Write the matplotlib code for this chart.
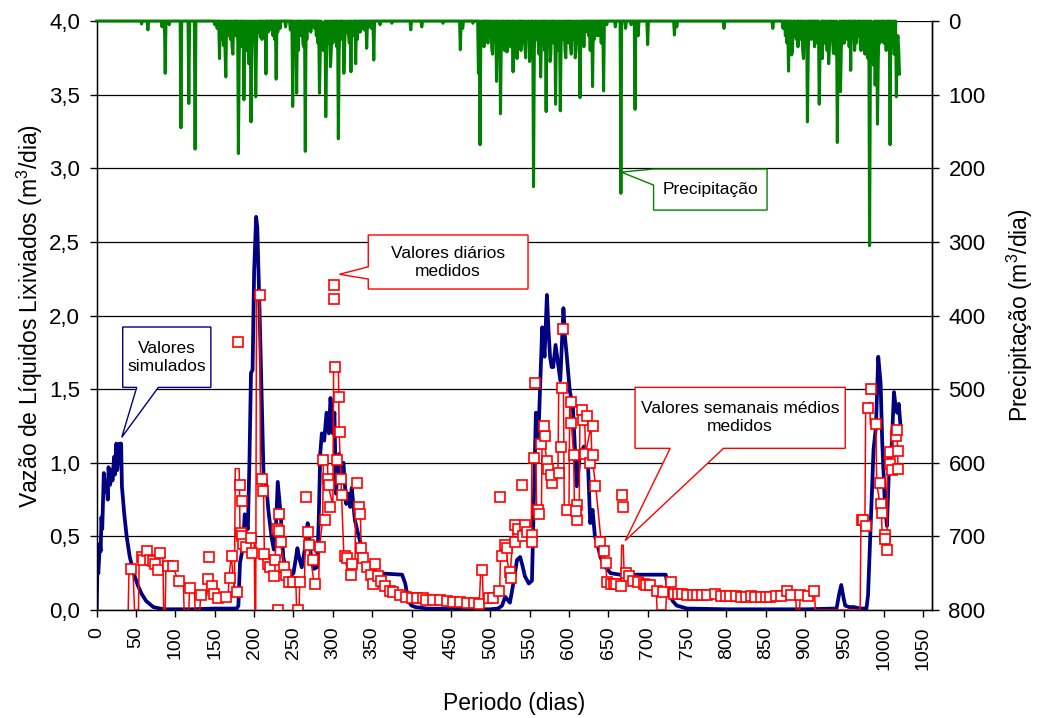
import numpy as np
import matplotlib
matplotlib.use("Agg")
import matplotlib.pyplot as plt
from matplotlib.patches import Polygon
from matplotlib.ticker import FuncFormatter

plt.rcParams['font.family'] = ['Liberation Sans', 'DejaVu Sans']
plt.rcParams['mathtext.default'] = 'regular'

# Simulated leachate flow (m3/day)
sim_days = [0, 1, 2, 4, 5, 6, 7, 9, 11, 13, 14, 15, 17, 19, 20, 22, 23, 25, 26, 27, 29, 31, 32, 35, 38,
            42, 47, 52, 57, 63, 72, 85, 120, 150, 170, 178, 180, 182, 186, 188, 190, 192, 194, 196, 198,
            200, 202.5, 204, 205.5, 207, 210, 212, 215, 218, 222, 225, 228, 230, 232, 234, 237, 240, 243.5,
            246, 250, 253, 255, 257, 260.5, 264, 268, 270, 273, 276, 280, 282, 284, 286, 289, 292, 295, 297,
            299, 300, 302, 304, 306, 308, 310.5, 313.5, 317, 320, 322, 324, 328, 332, 337, 343, 348, 356,
            388, 392, 396, 400, 405, 420, 480, 500, 510, 515, 519, 522, 525, 530, 534, 538, 541, 544, 549,
            553, 556, 558, 561, 564, 566, 569, 572, 574, 576, 578, 580, 583, 585, 589, 593, 595, 597, 601,
            605, 608, 610, 614, 619, 624, 627, 630, 633, 636, 640, 645, 653, 665, 723, 727, 732, 737, 750,
            800, 900, 940, 943, 946, 949, 951, 956, 962, 970, 978, 980, 983, 987, 990, 993, 996, 998, 1001,
            1004, 1007.5, 1010, 1013, 1015, 1017, 1019, 1021]
sim_flow = [0.01, 0.32, 0.25, 0.45, 0.40, 0.63, 0.55, 0.93, 0.80, 0.84, 0.75, 0.97, 0.85, 0.95, 0.88, 1.04,
            0.92, 1.13, 0.95, 1.00, 1.13, 1.13, 0.84, 0.65, 0.50, 0.36, 0.25, 0.17, 0.11, 0.06, 0.02, 0.005,
            0.005, 0.01, 0.01, 0.01, 0.03, 0.32, 0.43, 0.65, 0.60, 0.55, 1.00, 1.61, 1.63, 2.30, 2.67, 2.60,
            2.30, 2.01, 1.34, 0.91, 0.88, 0.68, 0.50, 0.41, 0.60, 0.87, 0.75, 0.63, 0.36, 0.28, 0.27, 0.23,
            0.25, 0.35, 0.42, 0.36, 0.29, 0.40, 0.59, 0.50, 0.32, 0.28, 0.29, 0.60, 1.06, 1.20, 1.15, 1.34,
            1.20, 1.44, 1.30, 1.20, 1.34, 0.79, 0.95, 1.06, 0.88, 1.00, 0.72, 0.79, 0.70, 0.83, 0.61, 0.52,
            0.42, 0.32, 0.26, 0.25, 0.24, 0.18, 0.06, 0.03, 0.02, 0.01, 0.005, 0.005, 0.01, 0.03, 0.09, 0.07,
            0.05, 0.20, 0.34, 0.36, 0.30, 0.23, 0.18, 0.20, 0.88, 1.34, 1.15, 1.60, 1.92, 1.72, 2.14, 1.90,
            1.72, 1.65, 1.65, 1.80, 1.72, 1.56, 2.05, 1.85, 1.74, 1.49, 1.38, 1.05, 0.84, 1.06, 1.11, 1.02,
            0.59, 0.68, 0.50, 0.45, 0.36, 0.30, 0.25, 0.24, 0.24, 0.11, 0.06, 0.03, 0.01, 0.005, 0.005, 0.01,
            0.10, 0.17, 0.08, 0.03, 0.02, 0.02, 0.01, 0.01, 0.10, 0.52, 1.09, 1.24, 1.72, 1.54, 1.15, 0.77,
            0.57, 1.09, 1.11, 1.48, 1.38, 1.34, 1.40, 1.27]

# Weekly mean measured flow (m3/day)
week_days = [40, 41, 46, 48, 53, 54, 60, 61, 66, 67, 73, 74, 79, 80, 84, 85, 87, 88, 96, 97, 103, 104, 110,
             111, 117, 118, 124, 125, 131, 132, 140, 141, 147, 153, 160, 167, 168, 171, 175, 176, 181, 182,
             188, 189, 195, 196, 200, 201, 202, 203, 207, 208, 212, 213, 219, 225, 226, 230, 233, 240, 247,
             253, 254, 257, 258, 264, 265, 270, 276, 282, 283, 287, 288, 293, 294, 300, 301, 307, 308, 314,
             321, 328, 329, 335, 336, 342, 349, 356, 363, 370, 377, 384, 391, 398, 405, 412, 419, 426, 433,
             440, 447, 454, 461, 468, 475, 482, 486, 488, 490, 491, 498, 505, 512, 513, 518, 519, 524, 525,
             530, 535, 536, 540, 546, 552, 553, 558, 559, 565, 566, 572, 573, 579, 580, 586, 587, 593, 594,
             600, 601, 606, 607, 613, 614, 620, 621, 628, 629, 634, 641, 647, 648, 654, 660, 666, 667, 669,
             670, 676, 683, 690, 697, 704, 711, 712, 723, 724, 725, 728, 729, 736, 743, 750, 757, 764, 771,
             778, 785, 792, 799, 806, 813, 820, 827, 834, 841, 848, 855, 862, 869, 876, 882, 888, 889, 893,
             894, 904, 910, 912, 913, 970, 971, 976, 977, 982, 983, 990, 991, 997, 998, 1004, 1005, 1010,
             1011, 1017, 1018]
week_flow = [0, 0.28, 0.28, 0, 0, 0.36, 0.36, 0.40, 0.40, 0.34, 0.33, 0.30, 0.30, 0.39, 0.39, 0, 0, 0.31,
             0.30, 0.30, 0.20, 0.20, 0.20, 0, 0, 0.15, 0.15, 0, 0, 0.10, 0.10, 0.21, 0.16, 0.10, 0.09, 0.09,
             0.22, 0.37, 0.12, 0.96, 0.96, 0.55, 0.50, 0.46, 0.46, 0.49, 0.49, 0, 0, 2.14, 2.14, 0.89, 0.81,
             0.38, 0.31, 0.23, 0.34, 0.55, 0.46, 0.27, 0.19, 0.19, 0, 0, 0.19, 0.19, 0.53, 0.44, 0.18, 0.18,
             0.43, 0.61, 1.02, 1.02, 0.85, 0.71, 1.65, 1.65, 1.21, 0.37, 0.22, 0.22, 0.72, 0.65, 0.41, 0.29,
             0.25, 0.23, 0.20, 0.14, 0.12, 0.10, 0.09, 0.08, 0.08, 0.08, 0.07, 0.07, 0.065, 0.06, 0.06,
             0.055, 0.055, 0.05, 0.045, 0.045, 0.04, 0.27, 0.27, 0.07, 0.08, 0.08, 0.12, 0.37, 0.44, 0.42,
             0.26, 0.22, 0.58, 0.55, 0.50, 0.50, 0.53, 0.46, 1.03, 1.03, 0.68, 0.65, 1.25, 1.01, 0.96, 0.92,
             0.93, 0.93, 1.51, 1.51, 0.68, 0.68, 1.41, 1.05, 0.67, 0.61, 1.36, 1.32, 1.06, 1.25, 1.05, 0.84,
             0.46, 0.32, 0.19, 0.18, 0.18, 0.15, 0.44, 0.44, 0.26, 0.23, 0.20, 0.16, 0.17, 0.16, 0.12, 0, 0,
             0.11, 0.19, 0.19, 0.11, 0.11, 0.11, 0.10, 0.10, 0.10, 0.10, 0.10, 0.11, 0.095, 0.095, 0.095,
             0.095, 0.09, 0.09, 0.095, 0.09, 0.09, 0.09, 0.095, 0.095, 0.13, 0.10, 0.10, 0, 0, 0.10, 0.095,
             0.13, 0.13, 0, 0, 0.61, 0.57, 1.37, 1.41, 1.26, 1.26, 0.86, 0.66, 0.51, 0.41, 1.07, 0.95, 1.22,
             1.22, 0.96]

# Daily measured flow (m3/day)
daily_days = [44, 57, 59, 64, 68, 72, 74, 78, 80, 90, 97, 104, 118, 132, 142, 143, 146, 149, 154, 164, 169,
              172, 178, 179, 182, 184, 183, 185, 186, 190, 196, 197, 207, 210, 211, 213, 217, 220, 225, 227,
              229, 231, 232, 234, 230, 238, 241, 244, 250, 256, 258, 266, 268, 270, 275, 277, 284, 290, 288,
              294, 295, 297, 301, 302, 303, 308, 309, 305, 310, 312, 316, 318, 324, 323, 331, 333, 334, 336,
              338, 344, 348, 353, 351, 358, 361, 366, 372, 377, 385, 393, 401, 407, 414, 419, 427, 436, 445,
              453, 462, 470, 479, 486, 489, 498, 504, 511, 515, 519, 521, 513, 525, 526, 532, 532, 535, 540,
              542, 544, 547, 553, 553, 555, 557, 561, 562, 564, 569, 568, 572, 574, 578, 577, 587, 590, 592,
              591, 598, 602, 603, 606, 610, 610, 609, 616, 618, 623, 621, 627, 631, 630, 633, 640, 645, 647,
              648, 653, 657, 660, 666, 668, 669, 672, 676, 682, 688, 695, 698, 703, 712, 720, 730, 733, 738,
              744, 750, 757, 763, 769, 776, 786, 793, 799, 805, 812, 818, 825, 831, 837, 844, 850, 856, 863,
              869, 877, 882, 894, 904, 911, 972, 974, 977, 980, 984, 990, 995, 997, 998, 1001, 1002, 1004,
              1008, 1008, 1011, 1015, 1017, 1018, 1018]
daily_flow = [0.28, 0.36, 0.34, 0.40, 0.34, 0.33, 0.31, 0.27, 0.39, 0.30, 0.30, 0.20, 0.15, 0.10, 0.21, 0.36,
              0.16, 0.11, 0.08, 0.09, 0.22, 0.37, 0.12, 1.82, 0.85, 0.74, 0.52, 0.50, 0.45, 0.43, 0.49, 0.39,
              2.14, 0.89, 0.81, 0.38, 0.31, 0.29, 0.23, 0.34, 0.55, 0.65, 0.54, 0.46, 0.00, 0.29, 0.24, 0.19,
              0.19, 0.00, 0.19, 0.77, 0.53, 0.44, 0.34, 0.18, 0.43, 0.61, 1.02, 0.89, 0.85, 0.70, 2.21, 2.11,
              1.65, 1.45, 1.21, 1.02, 0.89, 0.78, 0.37, 0.35, 0.31, 0.24, 0.86, 0.70, 0.65, 0.42, 0.35, 0.29,
              0.24, 0.31, 0.18, 0.23, 0.20, 0.16, 0.13, 0.12, 0.10, 0.09, 0.08, 0.08, 0.08, 0.07, 0.07, 0.065,
              0.06, 0.055, 0.055, 0.045, 0.045, 0.04, 0.27, 0.08, 0.08, 0.13, 0.37, 0.44, 0.42, 0.77, 0.26,
              0.22, 0.58, 0.46, 0.55, 0.85, 0.50, 0.58, 0.53, 0.51, 0.46, 1.03, 1.54, 0.68, 0.65, 1.13, 1.18,
              1.25, 1.01, 0.96, 0.86, 0.92, 0.93, 1.11, 1.91, 1.51, 0.68, 1.27, 1.41, 1.05, 0.71, 0.61, 0.67,
              1.36, 1.29, 1.32, 1.06, 1.00, 1.25, 1.05, 0.84, 0.46, 0.40, 0.32, 0.19, 0.18, 0.18, 0.18, 0.16,
              0.78, 0.70, 0.25, 0.23, 0.20, 0.19, 0.18, 0.17, 0.17, 0.13, 0.12, 0.19, 0.11, 0.11, 0.11, 0.10,
              0.10, 0.10, 0.10, 0.10, 0.11, 0.095, 0.095, 0.095, 0.095, 0.09, 0.09, 0.095, 0.09, 0.09, 0.09,
              0.09, 0.095, 0.095, 0.13, 0.10, 0.10, 0.095, 0.13, 0.61, 0.61, 0.57, 1.37, 1.50, 1.26, 0.86,
              0.72, 0.66, 0.51, 0.48, 0.41, 1.07, 0.99, 0.95, 1.18, 1.22, 1.08, 0.96]

# Rainfall events (m3/day); all other days are dry
rain_days = [57, 65, 83, 87, 92, 107, 117, 125, 150, 156, 158, 161, 164, 167, 170, 172, 175, 180, 183, 187,
             190, 193, 196, 199, 202, 205, 208, 212, 215, 220, 224, 228, 240, 249, 251, 254, 258, 262, 265,
             270, 275, 279, 283, 286, 288, 291, 294, 297, 300, 303, 307, 310, 314, 317, 320, 323, 326, 329,
             335, 338, 343, 346, 352, 360, 375, 399, 413, 440, 462, 465, 478, 485, 487, 490, 494, 497, 502,
             505, 508, 510, 513, 516, 518, 521, 524, 526, 529, 531, 534, 537, 541, 544, 547, 550, 553, 555,
             558, 561, 564, 567, 571, 573, 576, 579, 583, 586, 589, 592, 595, 598, 602, 605, 608, 611, 614,
             617, 621, 625, 630, 634, 638, 644, 648, 659, 666, 672, 679, 684, 688, 700, 734, 737, 797, 859,
             875, 879, 881, 883, 886, 889, 893, 898, 900, 903, 906, 910, 914, 918, 920, 922, 925, 927, 930,
             933, 936, 938, 941, 943, 945, 948, 951, 954, 958, 961, 965, 968, 971, 974, 977, 980, 982, 985,
             987, 989, 992, 995, 998, 1001, 1004, 1008, 1011, 1013, 1016, 1018, 1020,
             # lighter showers inside the wet spells
             153, 159, 163, 166, 169, 173, 177, 181, 185, 188, 191, 194, 197, 200, 203, 206, 210, 213, 218,
             226, 230, 233, 246, 252, 256, 260, 263, 267, 272, 277, 281, 284, 287, 289, 292, 295, 298, 301,
             305, 308, 312, 315, 318, 321, 325, 331, 333, 340, 349,
             488, 492, 499, 503, 506, 511, 514, 519, 522, 527, 532, 535, 539, 542, 545, 548, 551, 556, 559,
             562, 565, 569, 574, 577, 581, 584, 587, 590, 593, 596, 600, 603, 606, 609, 612, 615, 619, 623,
             627, 632, 636, 641,
             872, 877, 884, 888, 891, 895, 897, 901, 904, 908, 912, 916, 919, 924, 928, 931, 935, 939, 942,
             946, 950, 953, 956, 960, 963, 966, 970, 973, 976, 979, 983, 986, 990, 993, 996, 1000, 1003,
             1006, 1010, 1014, 1017, 1019]
rain_vals = [4, 12, 8, 71, 5, 145, 112, 174, 5, 51, 20, 33, 76, 15, 25, 35, 12, 180, 30, 107, 20, 58, 137,
             25, 103, 15, 22, 10, 72, 12, 20, 79, 8, 116, 20, 98, 10, 30, 177, 12, 8, 20, 98, 25, 40, 130,
             20, 62, 30, 15, 160, 25, 71, 15, 20, 69, 10, 58, 15, 10, 37, 8, 53, 5, 3, 12, 8, 3, 39, 10, 3,
             71, 168, 20, 15, 30, 39, 20, 82, 30, 126, 20, 40, 42, 15, 35, 69, 20, 51, 25, 30, 34, 10, 55,
             20, 225, 15, 30, 76, 20, 123, 30, 55, 20, 113, 30, 122, 20, 40, 25, 35, 20, 50, 15, 104, 20,
             10, 20, 89, 10, 20, 95, 5, 8, 234, 10, 5, 120, 20, 32, 19, 8, 10, 10, 20, 68, 30, 46, 15, 25,
             12, 51, 20, 137, 15, 21, 30, 113, 20, 51, 25, 15, 58, 20, 44, 30, 165, 60, 96, 30, 20, 25, 67,
             15, 30, 20, 40, 39, 25, 51, 305, 40, 60, 87, 140, 30, 10, 20, 15, 168, 30, 45, 103, 20, 72,
             10, 25, 40, 20, 15, 45, 20, 50, 35, 25, 40, 30, 45, 20, 35, 15, 25, 10, 15,
             25, 15, 10, 12, 30, 40, 20, 35, 25, 15, 10, 30, 45, 35, 20, 50, 30, 40, 25,
             35, 45, 20, 35, 10, 30, 20, 25, 15, 12, 10,
             25, 35, 20, 45, 15, 50, 30, 25, 40, 20, 45, 15, 40, 25, 50, 20, 35, 40, 25,
             45, 30, 40, 25, 45, 30, 20, 40, 35, 25, 50, 30, 45, 25, 40, 30, 20, 35, 15,
             40, 25, 20, 30,
             10, 30, 40, 20, 35, 25, 40, 30, 45, 25, 35, 20, 45, 30, 40, 35, 25, 45, 35,
             40, 30, 20, 35, 25, 40, 15, 30, 25, 45, 30, 50, 35, 40, 55, 25, 30, 40,
             25, 35, 45, 30, 40]

rain_series_days = np.arange(0, 1021)
rain_series = np.zeros(rain_series_days.size)
rain_series[rain_days] = rain_vals

NAVY = '#000080'
RED = '#ff0000'
GREEN = '#008000'

fig = plt.figure(figsize=(10.39, 7.18), dpi=100)
ax = fig.add_axes([0.0931, 0.1504, 0.8037, 0.8203])

ax.plot(sim_days, sim_flow, color=NAVY, lw=2.7, zorder=3, solid_joinstyle='round')
ax.plot(week_days, week_flow, color=RED, lw=1.1, zorder=4)
ax.plot(daily_days, daily_flow, ls='none', marker='s', ms=6.5, mfc='white', mec=RED, mew=1.2, zorder=5)

ax.set_xlim(0, 1061)
ax.set_ylim(0, 4.0)
ax.set_xticks(np.arange(0, 1051, 50))
ax.set_yticks(np.arange(0, 4.01, 0.5))
ax.yaxis.set_major_formatter(FuncFormatter(lambda v, p: f"{v:.1f}".replace('.', ',')))
ax.yaxis.grid(True, color='black', lw=0.9)
ax.set_axisbelow(True)
ax.tick_params(axis='x', labelsize=14, rotation=90, length=5, width=1, pad=7, direction='out')
ax.tick_params(axis='y', labelsize=16, length=5, width=1, pad=7, direction='out')
for s in ax.spines.values():
    s.set_linewidth(1)
ax.spines['top'].set_visible(False)
ax.set_xlabel('Periodo (dias)', fontsize=16.5, labelpad=16)
ax.set_ylabel('Vazão de Líquidos Lixiviados (m$^3$/dia)', fontsize=16.5, labelpad=3)

ax2 = ax.twinx()
ax2.plot(rain_series_days, rain_series, color=GREEN, lw=2.2, clip_on=False, solid_joinstyle='round')
ax2.set_ylim(800, 0)
ax2.set_yticks(np.arange(0, 801, 100))
ax2.tick_params(axis='y', labelsize=16, length=5, width=1, pad=7, direction='out')
ax2.spines['top'].set_visible(False)
ax2.spines['right'].set_linewidth(1)
ax2.set_ylabel('Precipitação (m$^3$/dia)', fontsize=16.5, labelpad=14)


def callout(x0, x1, y0, y1, wedge, tip, edge, text):
    """Rectangle with a pointer; wedge = ('bottom'|'left', a, b)."""
    side, a, b = wedge
    if side == 'bottom':
        pts = [(x0, y1), (x1, y1), (x1, y0), (b, y0), tip, (a, y0), (x0, y0)]
    else:
        pts = [(x0, y1), (x1, y1), (x1, y0), (x0, y0), (x0, b), tip, (x0, a)]
    ax.add_patch(Polygon(pts, closed=True, facecolor='white', edgecolor=edge, lw=1.0, zorder=6))
    ax.text((x0 + x1) / 2, (y0 + y1) / 2, text, ha='center', va='center', fontsize=12.5,
            linespacing=1.25, zorder=7)


callout(33, 145, 1.512, 1.922, ('bottom', 50.8, 78.3), (31.8, 1.173), NAVY, 'Valores\nsimulados')
callout(345, 548, 2.18, 2.547, ('left', 2.331, 2.248), (308.4, 2.28), RED, 'Valores diários\nmedidos')
callout(707.5, 851.7, 2.716, 2.995, ('left', 2.995, 2.886), (666.4, 2.974), GREEN, 'Precipitação')
callout(684, 951, 1.098, 1.512, ('bottom', 728.6, 796.4), (671.5, 0.471), RED,
        'Valores semanais médios\nmedidos')

fig.savefig('out.png', dpi=100)
